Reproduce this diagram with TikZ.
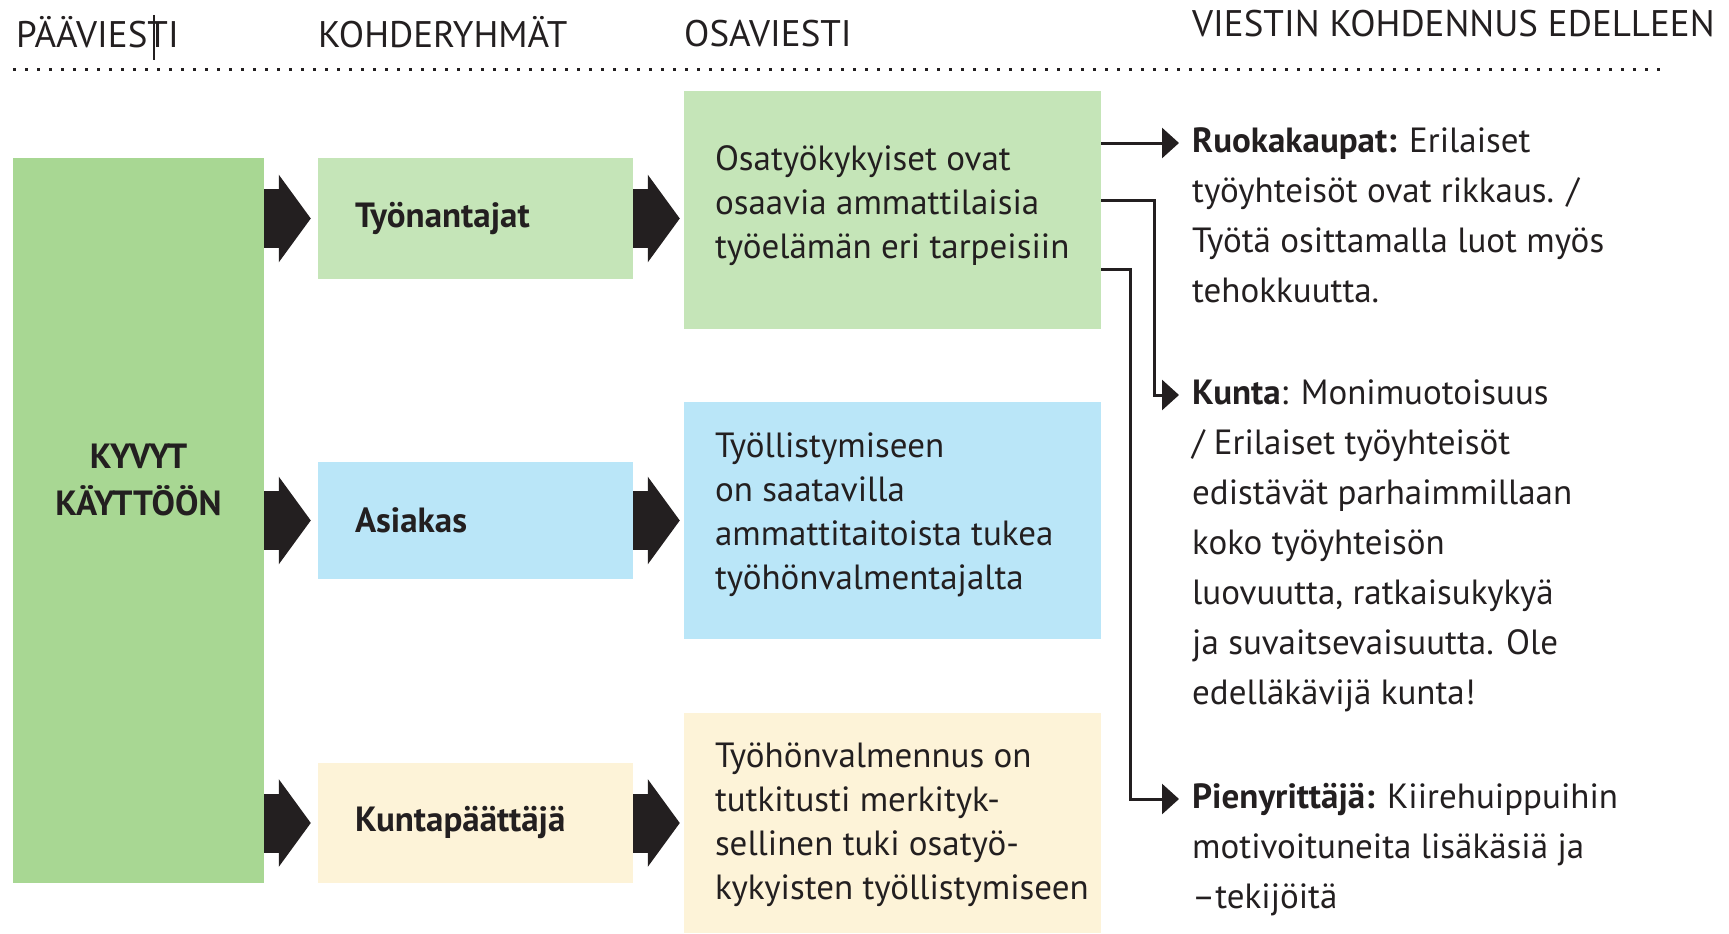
\documentclass[tikz,border=0pt]{standalone}
\usepackage{fontspec}
\setmainfont{PT Sans}
\usetikzlibrary{arrows.meta,positioning}

\definecolor{mainGreen}{RGB}{168,215,147}
\definecolor{lightGreen}{RGB}{197,229,184}
\definecolor{lightBlue}{RGB}{186,230,248}
\definecolor{cream}{RGB}{253,243,216}
\definecolor{ink}{RGB}{35,31,32}

\begin{document}
\begin{tikzpicture}[x=1pt, y=1pt, text=ink,
    main/.style = {fill=mainGreen, minimum width=251pt, minimum height=725pt, inner sep=0pt},
    group/.style = {minimum width=315pt, inner xsep=37pt, inner ysep=0pt, text width=241pt, align=left, font=\fontsize{35}{44}\selectfont\bfseries},
    part/.style = {minimum width=417pt, inner sep=0pt},
    parttext/.style = {anchor=north west, inner sep=0pt, align=left, font=\fontsize{35}{44}\selectfont},
    target/.style = {anchor=north west, inner sep=0pt, align=left, font=\fontsize{35}{50}\selectfont},
    head/.style = {anchor=base west, inner sep=0pt, font=\fontsize{37}{44}\selectfont},
    bigarrow/.style = {draw=ink, line width=59pt, -{Triangle[length=32pt, width=86pt]}},
    pointer/.style = {draw=ink, line width=3pt, -{Triangle[length=17pt, width=30pt]}}]
    \useasboundingbox (0,0) rectangle (1729,-934);

    \node[head] (h1) at (16,-48) {PÄÄVIESTI};
    \node[head] (h2) at (318,-48) {KOHDERYHMÄT};
    \node[head] (h3) at (684,-47) {OSAVIESTI};
    \node[head] (h4) at (1192,-37) {VIESTIN KOHDENNUS EDELLEEN};
    \draw[ink, line width=1.5pt] (154,-15) -- (154,-60);
    \draw[ink, line width=3pt, dash pattern=on 3pt off 9pt] (13,-69.5) -- (1667,-69.5);

    \node[main] (main) at (138.5,-520.5) {};
    \node[align=center, inner sep=0pt, font=\fontsize{35}{47}\selectfont\bfseries] (mainlbl) at ([yshift=40.5pt]main.center) {KYVYT\\KÄYTTÖÖN};

    \node[group, fill=lightGreen, minimum height=121pt] (t1) at (475.5,-218.5) {Työnantajat};
    \node[group, fill=lightBlue, minimum height=117pt] (t2) at (475.5,-520.5) {Asiakas};
    \node[group, fill=cream, minimum height=120pt] (t3) at (475.5,-823) {Kuntapäättäjä};

    \node[part, fill=lightGreen, minimum height=238pt] (o1) at (892.5,-210) {};
    \node[part, fill=lightBlue, minimum height=237pt] (o2) at (892.5,-520.5) {};
    \node[part, fill=cream, minimum height=220pt] (o3) at (892.5,-823) {};
    \node[parttext] (o1txt) at ([xshift=31pt, yshift=-49pt]o1.north west) {\strut Osatyökykyiset ovat\\osaavia ammattilaisia\\työelämän eri tarpeisiin};
    \node[parttext] (o2txt) at ([xshift=31pt, yshift=-25pt]o2.north west) {\strut Työllistymiseen\\on saatavilla\\ammattitaitoista tukea\\työhönvalmentajalta};
    \node[parttext] (o3txt) at ([xshift=31pt, yshift=-24pt]o3.north west) {\strut Työhönvalmennus on\\tutkitusti merkityk-\\sellinen tuki osatyö-\\kykyisten työllistymiseen};

    \node[target] (r1) at (1192,-117) {\strut\textbf{Ruokakaupat:} Erilaiset\\työyhteisöt ovat rikkaus. /\\Työtä osittamalla luot myös\\tehokkuutta.};
    \node[target] (r2) at (1192,-369) {\strut\textbf{Kunta}: Monimuotoisuus\\/ Erilaiset työyhteisöt\\edistävät parhaimmillaan\\koko työyhteisön\\luovuutta, ratkaisukykyä\\ja suvaitsevaisuutta. Ole\\edelläkävijä kunta!};
    \node[target] (r3) at (1192,-773) {\strut\textbf{Pienyrittäjä:} Kiirehuippuihin\\motivoituneita lisäkäsiä ja\\–tekijöitä};
    \coordinate (r1in) at ([xshift=-13pt, yshift=-26pt]r1.north west);
    \coordinate (r2in) at ([xshift=-13pt, yshift=-26pt]r2.north west);
    \coordinate (r3in) at ([xshift=-13pt, yshift=-26pt]r3.north west);

    \draw[bigarrow] (main.east |- t1.west) -- ([xshift=-7pt]t1.west);
    \draw[bigarrow] (main.east |- t2.west) -- ([xshift=-7pt]t2.west);
    \draw[bigarrow] (main.east |- t3.west) -- ([xshift=-7pt]t3.west);
    \draw[bigarrow] (t1.east) -- ([xshift=-4pt]t1.east -| o1.west);
    \draw[bigarrow] (t2.east) -- ([xshift=-4pt]t2.east -| o2.west);
    \draw[bigarrow] (t3.east) -- ([xshift=-4pt]t3.east -| o3.west);

    \draw[pointer] (o1.east |- r1in) -- (r1in);
    \draw[pointer] ([yshift=10pt]o1.east) -- ++(53,0) |- (r2in);
    \draw[pointer] ([yshift=-59pt]o1.east) -- ++(29,0) |- (r3in);

\end{tikzpicture}
\end{document}
